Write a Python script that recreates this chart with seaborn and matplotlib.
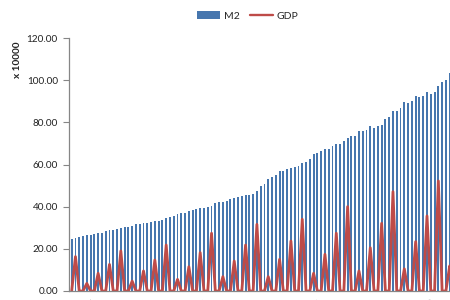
import matplotlib
matplotlib.use("Agg")
import matplotlib.pyplot as plt
from matplotlib.patches import Patch
from matplotlib.lines import Line2D
import seaborn as sns
import pandas as pd

# ---- data (x 10000) ----
months = [f"{y}-{m:02d}" for y in range(2004, 2014) for m in range(1, 13)]
months = months[months.index("2004-11"):months.index("2013-05") + 1]

m2 = [
    24.6, 25.3,
    25.8, 25.9, 26.4, 26.6, 27.0, 27.6, 27.7, 28.4, 28.7, 28.8, 29.2, 29.9,
    30.3, 30.4, 31.0, 31.6, 31.6, 32.3, 32.4, 32.6, 33.2, 33.2, 33.7, 34.6,
    35.1, 35.7, 36.4, 36.9, 37.0, 37.8, 38.3, 38.7, 39.4, 39.4, 39.9, 40.3,
    41.7, 42.1, 42.3, 42.9, 43.6, 44.3, 44.4, 44.9, 45.3, 45.3, 45.8, 47.5,
    49.6, 50.7, 53.1, 54.0, 54.8, 56.9, 57.1, 57.7, 58.5, 58.6, 59.5, 60.6,
    61.0, 62.6, 64.9, 65.6, 66.3, 67.4, 67.4, 68.8, 69.6, 69.9, 71.0, 72.6,
    73.3, 73.7, 75.8, 75.7, 76.3, 78.1, 77.3, 78.1, 78.7, 81.7, 82.5, 85.2,
    85.6, 86.7, 89.6, 89.0, 90.1, 92.5, 91.9, 92.5, 94.4, 93.6, 94.5, 97.4,
    99.2, 99.9, 103.6, 103.3, 104.2,
]

gdp = [
    0, 16.3, 0,  0, 3.6, 0,   0, 8.4, 0,   0, 12.6, 0,
    0, 19.0, 0,  0, 4.7, 0,   0, 9.5, 0,   0, 14.7, 0,
    0, 21.8, 0,  0, 5.5, 0,   0, 11.5, 0,  0, 18.2, 0,
    0, 27.4, 0,  0, 6.8, 0,   0, 14.2, 0,  0, 21.8, 0,
    0, 31.6, 0,  0, 6.8, 0,   0, 15.0, 0,  0, 23.7, 0,
    0, 34.0, 0,  0, 8.4, 0,   0, 17.4, 0,  0, 27.4, 0,
    0, 40.0, 0,  0, 9.5, 0,   0, 20.5, 0,  0, 32.1, 0,
    0, 47.1, 0,  0, 10.5, 0,  0, 23.4, 0,  0, 35.6, 0,
    0, 52.2, 0,  0, 11.9, 0,
    0,
]

yticks = [0, 20, 40, 60, 80, 100, 120]

df = pd.DataFrame({"month": months, "M2": m2, "GDP": gdp})
df["pos"] = range(len(df))

BAR = "#4676AE"
LINE = "#BE4B48"
AXIS = "#868686"
FONT = ["Lato", "DejaVu Sans"]

sns.set_style("white")
plt.rcParams["font.family"] = FONT

W, H = 450, 300
fig = plt.figure(figsize=(W / 100, H / 100), dpi=100)

n = len(df)
spacing = 3.78
x_left = -0.71
x_right = n - 0.5
ax_l_px, ax_bottom_px, ax_top_px = 69, 291, 38
ax_w_px = (x_right - x_left) * spacing
ax = fig.add_axes([ax_l_px / W, (H - ax_bottom_px) / H,
                   ax_w_px / W, (ax_bottom_px - ax_top_px) / H])

sns.barplot(data=df, x="pos", y="M2", color=BAR, width=0.5,
            saturation=1, ax=ax, native_scale=True, edgecolor="none")
sns.lineplot(data=df, x="pos", y="GDP", color=LINE, lw=2.0, ax=ax)

ax.set_xlim(x_left, x_right)
ax.set_ylim(0, 120)
ax.set_yticks(yticks)
ax.set_yticklabels([f"{v:.2f}" for v in yticks], fontsize=7.2, color="#222222")

# category-axis ticks every 5 categories, labels rotated (clipped by figure as in the source)
ax.set_xticks([i - 0.5 for i in range(0, n, 5)], minor=False)
ax.set_xticklabels([])
ax.set_xticks(list(range(0, n, 5)), minor=True)
ax.set_xticklabels([df["month"][i] for i in range(0, n, 5)], minor=True,
                   rotation=90, fontsize=7.2, color="#222222")
ax.tick_params(axis="x", which="minor", length=0, pad=5)
ax.tick_params(axis="x", which="major", length=3, color=AXIS, width=0.8,
               direction="out")
ax.tick_params(axis="y", length=4, color=AXIS, width=0.8, direction="out",
               pad=4, left=True)

ax.set_xlabel("")
ax.set_ylabel("")
for s in ["top", "right"]:
    ax.spines[s].set_visible(False)
for s in ["left", "bottom"]:
    ax.spines[s].set_color(AXIS)
    ax.spines[s].set_linewidth(0.9)
ax.grid(False)

fig.text(17 / W, 1 - 60 / H, "x 10000", rotation=90, ha="center", va="center",
         fontsize=7.2, fontweight="bold", color="#222222")

handles = [Patch(facecolor=BAR, edgecolor="none"),
           Line2D([0], [0], color=LINE, lw=1.7)]
fig.legend(handles, ["M2", "GDP"], loc="center",
           bbox_to_anchor=(248 / W, 1 - 16 / H), ncol=2, frameon=False,
           fontsize=7.5, handlelength=2.2, handletextpad=0.35,
           columnspacing=1.0, borderaxespad=0)

fig.savefig("out.png", dpi=100)
